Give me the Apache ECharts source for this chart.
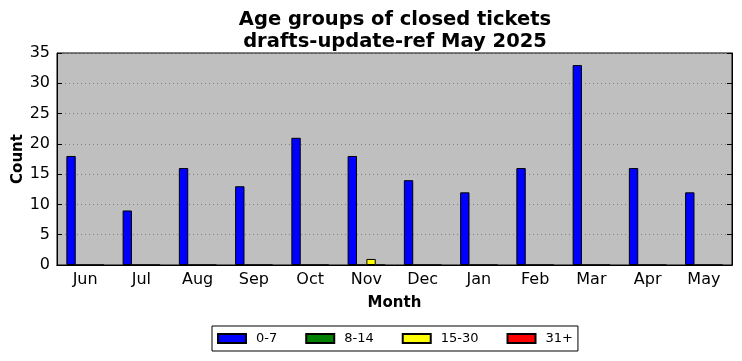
<!DOCTYPE html>
<html><head><meta charset="utf-8">
<script src="https://cdn.jsdelivr.net/npm/echarts@6/dist/echarts.min.js"></script>
<style>html,body{margin:0;padding:0;background:#fff}#c{width:742px;height:361px}</style>
</head><body><div id="c"></div>
<script>
const months = ['Jun','Jul','Aug','Sep','Oct','Nov','Dec','Jan','Feb','Mar','Apr','May'];
const age0_7 = [18,9,16,13,21,18,14,12,16,33,16,12];
const age8_14 = [0,0,0,0,0,0,0,0,0,0,0,0];
const age15_30 = [0,0,0,0,0,1,0,0,0,0,0,0];
const age31 = [0,0,0,0,0,0,0,0,0,0,0,0];
const yTicks = [0,5,10,15,20,25,30,35];

const F = 'DejaVu Sans';
const chart = echarts.init(document.getElementById('c'));
const mk = (name, data, color) => ({
  name, type: 'bar', data, xAxisIndex: 0, yAxisIndex: 0,
  barGap: '0%', barCategoryGap: '33.3%',
  itemStyle: {color, borderColor: '#000', borderWidth: 1},
  emphasis: {disabled: true}, animation: false
});
chart.setOption({
  animation: false,
  title: {text: 'Age groups of closed tickets\ndrafts-update-ref May 2025', left: 390, textAlign: 'center', top: 4,
    textStyle: {fontFamily: F, fontWeight: 'bold', fontSize: 19.5, color: '#000', lineHeight: 22}},
  grid: {left: 57, right: 10, top: 53, bottom: 96, show: true, backgroundColor: '#bfbfbf', borderColor: '#000', borderWidth: 1,
    containLabel: false, outerBoundsMode: 'none'},
  legend: {left: 212, top: 326, orient: 'horizontal', itemWidth: 28, itemHeight: 9, itemGap: 28,
    padding: [6, 5, 6, 5], borderColor: '#000', borderWidth: 1, icon: 'rect',
    textStyle: {fontFamily: F, fontSize: 13, color: '#000', padding: [0, 0, 0, 5]},
    data: ['0-7','8-14','15-30','31+']},
  xAxis: [
    {type: 'category', data: months, position: 'bottom', name: 'Month', nameLocation: 'middle', nameGap: 31, nameMoveOverlap: false,
     nameTextStyle: {fontFamily: F, fontWeight: 'bold', fontSize: 15, color: '#000'},
     axisLine: {lineStyle: {color: '#000'}}, axisTick: {alignWithLabel: true, inside: true, length: 5, lineStyle: {color: '#000'}},
     axisLabel: {fontFamily: F, fontSize: 16, color: '#000', margin: 7}, splitLine: {show: false}},
    {type: 'category', data: months, position: 'top',
     axisLine: {lineStyle: {color: '#000'}}, axisTick: {alignWithLabel: true, inside: true, length: 5, lineStyle: {color: '#000'}},
     axisLabel: {show: false}}
  ],
  yAxis: [
    {type: 'value', min: 0, max: 35, interval: 5, name: 'Count', nameLocation: 'middle', nameGap: 31, nameMoveOverlap: false,
     nameTextStyle: {fontFamily: F, fontWeight: 'bold', fontSize: 15, color: '#000'},
     axisLine: {show: true, lineStyle: {color: '#000'}}, axisTick: {show: true, inside: true, length: 5, lineStyle: {color: '#000'}},
     axisLabel: {fontFamily: F, fontSize: 16, color: '#000', margin: 7, formatter: v => yTicks.includes(v) ? String(v) : ''},
     splitLine: {show: true, lineStyle: {color: '#808080', type: [1, 3], width: 1}}},
    {type: 'value', min: 0, max: 35, interval: 5, position: 'right',
     axisLine: {show: true, lineStyle: {color: '#000'}}, axisTick: {show: true, inside: true, length: 5, lineStyle: {color: '#000'}},
     axisLabel: {show: false}, splitLine: {show: false}}
  ],
  series: [
    mk('0-7', age0_7, '#0000ff'),
    mk('8-14', age8_14, '#008000'),
    mk('15-30', age15_30, '#ffff00'),
    mk('31+', age31, '#ff0000')
  ]
});
</script></body></html>
